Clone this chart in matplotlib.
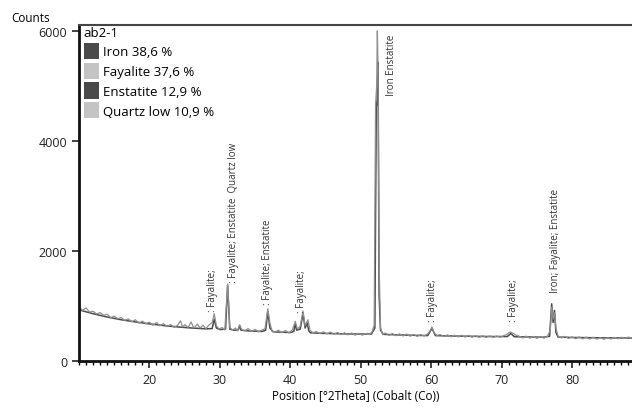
import matplotlib.pyplot as plt
from matplotlib.patches import Patch
from matplotlib.ticker import MultipleLocator

plt.rcParams['font.family'] = ['Open Sans', 'DejaVu Sans']

obs_2theta = [10.0, 10.5, 11.0, 11.5, 12.0, 12.5, 13.0, 13.5, 14.0, 14.5, 15.0, 15.5, 16.0, 16.5, 17.0, 17.5,
              18.0, 18.5, 19.0, 19.5, 20.0, 20.5, 21.0, 21.5, 22.0, 22.5, 23.0, 23.5, 24.0, 24.4, 24.7, 25.0,
              25.5, 25.9, 26.3, 26.8, 27.2, 27.6, 28.0, 28.5, 28.9, 29.2, 29.5, 29.9, 30.3, 30.7, 31.1, 31.4,
              31.8, 32.2, 32.5, 32.8, 33.1, 33.6, 34.0, 34.5, 35.0, 35.5, 36.0, 36.4, 36.8, 37.1, 37.4, 37.8,
              38.3, 38.8, 39.3, 39.8, 40.3, 40.7, 41.0, 41.4, 41.8, 42.1, 42.5, 42.8, 43.2, 43.7, 44.2, 44.7,
              45.2, 45.7, 46.2, 46.7, 47.2, 47.7, 48.2, 48.7, 49.2, 49.7, 50.2, 50.7, 51.2, 51.6, 51.9, 52.1,
              52.25, 52.35, 52.45, 52.6, 52.8, 53.1, 53.5, 54.0, 54.5, 55.0, 55.5, 56.0, 56.5, 57.0, 57.5, 58.0,
              58.5, 59.0, 59.5, 59.9, 60.1, 60.4, 60.8, 61.3, 61.8, 62.3, 62.8, 63.3, 63.8, 64.3, 64.8, 65.3,
              65.8, 66.3, 66.8, 67.3, 67.8, 68.3, 68.8, 69.3, 69.8, 70.3, 70.8, 71.2, 71.6, 72.0, 72.5, 73.0,
              73.5, 74.0, 74.5, 75.0, 75.5, 76.0, 76.5, 76.9, 77.1, 77.3, 77.5, 77.7, 78.0, 78.5, 79.0, 79.5,
              80.0, 80.5, 81.0, 81.5, 82.0, 82.5, 83.0, 83.5, 84.0, 84.5, 85.0, 85.5, 86.0, 86.5, 87.0, 87.5,
              88.0, 88.5]
obs_counts = [990, 920, 965, 890, 905, 855, 880, 830, 850, 790, 815, 770, 790, 740, 765, 715,
              750, 690, 725, 680, 705, 650, 700, 640, 680, 625, 665, 610, 650, 730, 620, 660,
              610, 710, 600, 670, 600, 650, 590, 660, 700, 860, 640, 580, 610, 565, 1400, 610,
              560, 600, 550, 660, 570, 550, 590, 535, 575, 530, 565, 585, 950, 690, 550, 525,
              560, 515, 555, 510, 570, 720, 580, 630, 910, 640, 750, 555, 515, 535, 500, 530,
              495, 525, 485, 520, 480, 515, 475, 510, 470, 505, 470, 500, 480, 530, 650, 4650,
              5000, 6000, 5300, 1800, 600, 480, 510, 465, 500, 460, 495, 455, 490, 450, 485, 448,
              480, 455, 495, 560, 620, 520, 465, 480, 445, 475, 440, 470, 438, 468, 435, 465,
              432, 462, 430, 460, 428, 458, 430, 455, 432, 460, 490, 530, 505, 470, 450, 420,
              452, 415, 448, 412, 445, 415, 450, 560, 980, 760, 880, 600, 450, 420, 448, 410,
              440, 405, 438, 402, 435, 400, 432, 398, 425, 395, 425, 400, 430, 405, 432, 410,
              435, 415]

# calculated profile
calc_2theta = [10, 12, 14, 16, 18, 20, 22, 24, 26, 28, 28.9, 29.2, 29.5, 30, 30.8, 31.1, 31.4, 32, 32.6,
               32.8, 33.0, 34, 36, 36.5, 36.8, 37.1, 37.5, 38, 40, 40.5, 40.7, 40.9, 41.4, 41.8, 42.1,
               42.4, 42.6, 42.8, 44, 48, 51.5, 52.0, 52.2, 52.3, 52.45, 52.6, 52.8, 53.2, 56, 59.5, 60.1,
               60.6, 64, 68, 70.8, 71.3, 71.8, 76, 76.8, 77.1, 77.3, 77.5, 77.7, 78.0, 80, 84, 88.5]
calc_counts = [930, 860, 800, 750, 710, 675, 645, 620, 600, 585, 590, 760, 600, 572, 580, 1380, 580, 560, 565,
               640, 560, 548, 537, 560, 900, 600, 535, 528, 518, 540, 680, 560, 580, 860, 600,
               690, 560, 515, 505, 492, 490, 600, 4700, 4650, 5430, 1200, 560, 485, 472, 462, 590,
               462, 452, 446, 445, 500, 442, 433, 450, 1040, 700, 920, 520, 435, 428, 422, 418]

# peak labels: position, height, text, anchor
label_x = [29.0, 32.0, 36.8, 41.6, 54.4, 60.2, 71.7, 77.6]
label_y = [910, 1440, 1040, 900, 5950, 730, 730, 1250]
label_text = [': Fayalite;', ': Fayalite; Enstatite  Quartz low', ': Fayalite; Enstatite', ': Fayalite;',
              'Iron Enstatite', ': Fayalite;', ': Fayalite;', 'Iron; Fayalite; Enstatite']
label_va = ['bottom', 'bottom', 'bottom', 'bottom', 'top', 'bottom', 'bottom', 'bottom']

phases = ['Iron 38,6 %', 'Fayalite 37,6 %', 'Enstatite 12,9 %', 'Quartz low 10,9 %']
phase_colors = ['#4a4a4a', '#c4c4c4', '#4a4a4a', '#c4c4c4']

fig = plt.figure(figsize=(6.32, 4.10), dpi=100)
ax = fig.add_axes([0.125, 0.117, 0.875, 0.820])

ax.plot(calc_2theta, calc_counts, color='#4a4a4a', lw=1.1)
ax.plot(obs_2theta, obs_counts, color='#8f8f8f', lw=0.9)

for x, y, t, va in zip(label_x, label_y, label_text, label_va):
    ax.text(x, y, t, rotation=90, ha='center', va=va, fontsize=7, color='#333333')

ax.set_xlim(10, 88.5)
ax.set_ylim(0, 6110)
ax.set_yticks([0, 2000, 4000, 6000])
ax.xaxis.set_minor_locator(MultipleLocator(1))
ax.set_xticks([20, 30, 40, 50, 60, 70, 80])
ax.tick_params(axis='both', which='major', direction='out', length=5, width=1.2, labelsize=9, colors='#222222')
ax.tick_params(axis='x', which='minor', direction='out', length=3, width=1)

for s in ['left', 'bottom']:
    ax.spines[s].set_linewidth(2)
    ax.spines[s].set_color('#111111')
ax.spines['top'].set_linewidth(1.5)
ax.spines['top'].set_color('#444444')
ax.spines['right'].set_visible(False)

ax.set_xlabel('Position [°2Theta] (Cobalt (Co))', fontsize=8.5, labelpad=2)
fig.text(0.018, 0.955, 'Counts', fontsize=8.5, ha='left', va='center')

handles = [Patch(facecolor=c, edgecolor='none') for c in phase_colors]
leg = ax.legend(handles, phases, title='ab2-1', loc='upper left', bbox_to_anchor=(0.006, 1.0),
                frameon=False, fontsize=9.5, title_fontsize=9.5, handlelength=1.2, handleheight=1.5,
                labelspacing=0.28, handletextpad=0.3, borderaxespad=0.0, borderpad=0.1, alignment='left')

fig.savefig('out.png', dpi=100)
